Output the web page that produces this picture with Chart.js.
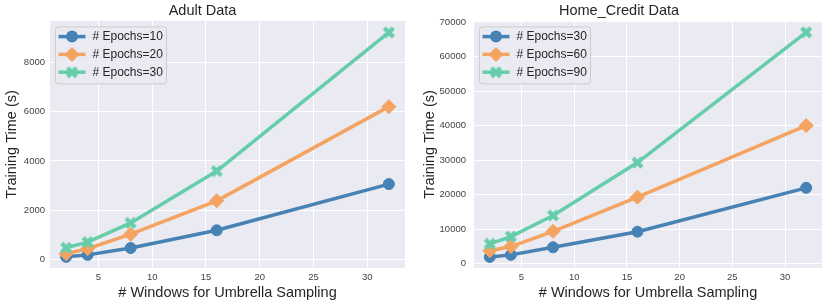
<!DOCTYPE html>
<html><head><meta charset="utf-8">
<script src="https://cdn.jsdelivr.net/npm/chart.js@4.4.1/dist/chart.umd.min.js"></script>
<style>
html,body{margin:0;padding:0;background:#fff;width:830px;height:304px;overflow:hidden}
canvas{position:absolute;top:0}
#c1{left:0}#c2{left:415px}
</style></head><body>
<canvas id="c1" width="415" height="304"></canvas>
<canvas id="c2" width="415" height="304"></canvas>
<script>
// ---- data ----
const windows = [2, 4, 8, 16, 32];
const xTicks = [5, 10, 15, 20, 25, 30];

const adultTitle = 'Adult Data';
const adultLabels = ['# Epochs=10', '# Epochs=20', '# Epochs=30'];
const adultE10 = [100, 180, 460, 1180, 3060];
const adultE20 = [230, 430, 1020, 2380, 6210];
const adultE30 = [470, 700, 1480, 3590, 9230];
const adultYTicks = [0, 2000, 4000, 6000, 8000];

const homeTitle = 'Home_Credit Data';
const homeLabels = ['# Epochs=30', '# Epochs=60', '# Epochs=90'];
const homeE30 = [2000, 2600, 4800, 9300, 22000];
const homeE60 = [3800, 5000, 9400, 19300, 40000];
const homeE90 = [5800, 7900, 14000, 29300, 67000];
const homeYTicks = [0, 10000, 20000, 30000, 40000, 50000, 60000, 70000];

const xTitle = '# Windows for Umbrella Sampling';
const yTitle = 'Training Time (s)';

// ---- styling ----
const BLUE = '#4682B4', ORANGE = '#F4A460', GREEN = '#66CDAA';
const FONT = "'Liberation Sans', Arial, sans-serif";
const TXT = '#262626';

function makeX(color, size) {
  const c = document.createElement('canvas');
  c.width = size; c.height = size;
  const g = c.getContext('2d');
  const s = size - 1, o = 0.5;
  const pts = [[-0.25,-0.5],[0,-0.25],[0.25,-0.5],[0.5,-0.25],[0.25,0],[0.5,0.25],[0.25,0.5],[0,0.25],[-0.25,0.5],[-0.5,0.25],[-0.25,0],[-0.5,-0.25]];
  g.beginPath();
  pts.forEach((p, i) => {
    const x = o + (p[0] + 0.5) * s, y = o + (p[1] + 0.5) * s;
    if (i === 0) g.moveTo(x, y); else g.lineTo(x, y);
  });
  g.closePath();
  g.fillStyle = color; g.fill();
  return c;
}
const xMarker = makeX(GREEN, 13);

function drawMarker(ctx, kind, x, y) {
  if (kind === 'circle') {
    ctx.fillStyle = BLUE; ctx.beginPath(); ctx.arc(x, y, 6, 0, Math.PI * 2); ctx.fill();
  } else if (kind === 'diamond') {
    ctx.fillStyle = ORANGE; ctx.beginPath();
    const r = 7.5;
    ctx.moveTo(x, y - r); ctx.lineTo(x + r, y); ctx.lineTo(x, y + r); ctx.lineTo(x - r, y); ctx.closePath(); ctx.fill();
  } else {
    ctx.drawImage(xMarker, x - xMarker.width / 2, y - xMarker.height / 2);
  }
}

const bgPlugin = {
  id: 'bg',
  beforeDraw(chart) {
    const {ctx, chartArea: a} = chart;
    ctx.save(); ctx.fillStyle = '#EAEAF2';
    ctx.fillRect(a.left, a.top, a.right - a.left, a.bottom - a.top);
    ctx.restore();
  }
};

const legendPlugin = {
  id: 'inlegend',
  afterDraw(chart) {
    const {ctx, chartArea: a} = chart;
    const bx = a.left + 5.5, by = a.top + 6, bw = 111, bh = 57;
    ctx.save();
    ctx.fillStyle = 'rgba(234,234,242,0.85)';
    ctx.strokeStyle = '#cccccc'; ctx.lineWidth = 1;
    ctx.beginPath();
    if (ctx.roundRect) ctx.roundRect(bx, by, bw, bh, 3); else ctx.rect(bx, by, bw, bh);
    ctx.fill(); ctx.stroke();
    const kinds = ['circle', 'diamond', 'x'];
    chart.data.datasets.forEach((ds, i) => {
      const yy = by + 9.7 + i * 17.8;
      const x0 = a.left + 8.5, x1 = x0 + 27;
      ctx.strokeStyle = ds.borderColor; ctx.lineWidth = 3.5;
      ctx.beginPath(); ctx.moveTo(x0, yy); ctx.lineTo(x1, yy); ctx.stroke();
      drawMarker(ctx, kinds[i], (x0 + x1) / 2, yy);
      ctx.fillStyle = TXT; ctx.font = '12px ' + FONT;
      ctx.textBaseline = 'middle'; ctx.textAlign = 'left';
      ctx.fillText(ds.label, a.left + 42.5, yy + 0.5);
    });
    ctx.restore();
  }
};

function buildChart(id, title, labels, series, yTicks, yMin, yMax, yAxisW, yTitlePad, yTickPad, padRight) {
  const styles = [
    {c: BLUE, ps: 'circle', r: 5.5},
    {c: ORANGE, ps: 'rectRot', r: 7},
    {c: GREEN, ps: xMarker, r: 6.5}
  ];
  const datasets = series.map((vals, i) => ({
    label: labels[i],
    data: windows.map((w, j) => ({x: w, y: vals[j]})),
    borderColor: styles[i].c,
    backgroundColor: styles[i].c,
    pointBackgroundColor: styles[i].c,
    pointBorderColor: styles[i].c,
    pointBorderWidth: 1,
    pointStyle: styles[i].ps,
    pointRadius: styles[i].r,
    borderWidth: 3.5,
    tension: 0,
    order: 3 - i
  }));
  return new Chart(document.getElementById(id), {
    type: 'line',
    data: {datasets},
    plugins: [bgPlugin, legendPlugin],
    options: {
      responsive: false, animation: false, devicePixelRatio: 1,
      layout: {padding: {left: 0, right: padRight, top: 0, bottom: 0}},
      plugins: {
        legend: {display: false}, tooltip: {enabled: false},
        title: {display: true, text: title, color: TXT,
          font: {family: FONT, size: 14.5, weight: 'normal'}, padding: {top: 2.5, bottom: 1}}
      },
      scales: {
        x: {
          type: 'linear', min: 0.5, max: 33.5,
          afterBuildTicks: s => { s.ticks = xTicks.map(v => ({value: v})); },
          afterFit: s => { s.height = 36; },
          grid: {color: '#ffffff', lineWidth: 1, drawTicks: false},
          border: {display: false},
          ticks: {color: '#444', font: {family: FONT, size: 9.5}, padding: 4, maxRotation: 0},
          title: {display: true, text: xTitle, color: TXT, font: {family: FONT, size: 14.5}, padding: {top: 0, bottom: 2}}
        },
        y: {
          type: 'linear', min: yMin, max: yMax,
          afterBuildTicks: s => { s.ticks = yTicks.map(v => ({value: v})); },
          afterFit: s => { s.width = yAxisW; },
          grid: {color: '#ffffff', lineWidth: 1, drawTicks: false},
          border: {display: false},
          ticks: {color: '#444', font: {family: FONT, size: 9.5}, padding: yTickPad,
            callback: v => String(v)},
          title: {display: true, text: yTitle, color: TXT, font: {family: FONT, size: 14.5}, padding: {top: yTitlePad, bottom: 0}}
        }
      }
    }
  });
}

buildChart('c1', adultTitle, adultLabels, [adultE10, adultE20, adultE30], adultYTicks, -354, 9697, 50, 3, 5, 10);
buildChart('c2', homeTitle, homeLabels, [homeE30, homeE60, homeE90], homeYTicks, -1200, 70300, 59, 6.3, 8, 7);
</script>
</body></html>
